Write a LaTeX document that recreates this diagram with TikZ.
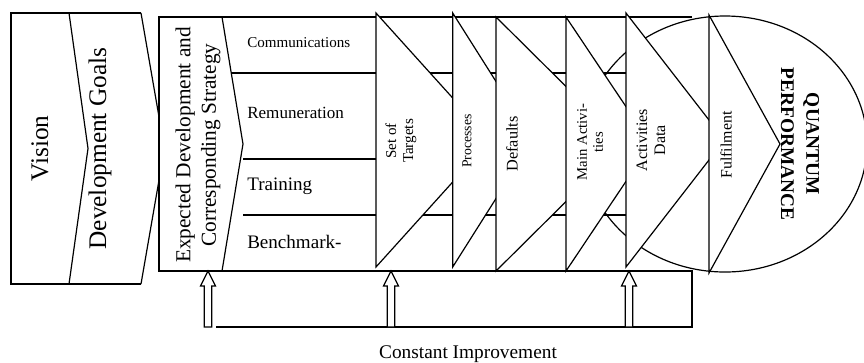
\documentclass[tikz,border=0pt]{standalone}
\usepackage{fontspec}
\setmainfont{Liberation Serif}
\tikzset{
  outline/.style={draw, line width=0.9pt},
  stage/.style={draw, fill=white, line width=0.9pt},
  vlabel/.style={rotate=90, align=center, inner sep=0.75pt},
  rowlabel/.style={anchor=west, inner sep=0.75pt},
}
\begin{document}
\begin{tikzpicture}[x=0.75pt,y=0.75pt,yscale=-1,xscale=1]
    \useasboundingbox (0,0) rectangle (864,362);

    %Shape: Vision and goals block
    \draw[outline] (141,13) -- (11,13) -- (11,284) -- (141,284);
    \draw[outline] (69,13) -- (88,148.5) -- (69,284);
    \draw[outline] (141,13) -- (164.5,148.5) -- (141,284);

    %Shape: Main frame and improvement loop
    \fill[white] (159,17) rectangle (692,271);
    \draw[outline] (692,17) -- (159,17) -- (159,271) -- (692,271) -- (692,327) -- (216,327);

    %Shape: Strategy chevron
    \draw[outline] (222,17) -- (243,144) -- (222,271);
    %Shape: Row lines
    \draw[outline] (231,73) -- (626,73);
    \draw[outline] (243,159) -- (376,159);
    \draw[outline] (243,215) -- (626,215);

    %Shape: Ellipse
    \draw[outline] (725,144) ellipse [x radius=142, y radius=128];

    %Shape: Stages
    \draw[stage] (376,13) -- (490.6,140) -- (376,267) -- cycle;
    \draw[stage] (452.7,13) -- (533,140) -- (452.7,267) -- cycle;
    \draw[stage] (496,17) -- (624,144) -- (496,271) -- cycle;
    \draw[stage] (566,17) -- (651,144) -- (566,271) -- cycle;
    \draw[stage] (626,13) -- (724.5,140) -- (626,267) -- cycle;
    \draw[stage] (709,15) -- (780,144) -- (709,273) -- cycle;

    %Shape: Hollow arrows
    \foreach \ax in {208,391,629}
      \draw[outline, fill=white] (\ax-3.8,327) -- (\ax-3.8,286) -- (\ax-7.5,286) -- (\ax,271) -- (\ax+7.5,286) -- (\ax+3.8,286) -- (\ax+3.8,327) -- cycle;

    % Text Node
    \node[vlabel, font=\fontsize{19}{23}\selectfont] (vision) at (40,148.5) {Vision};
    % Text Node
    \node[vlabel, font=\fontsize{19}{23}\selectfont] (goals) at (100,148.5) {Development Goals};
    % Text Node
    \node[vlabel, font=\fontsize{16}{19}\selectfont] (strategy) at (198,145) {Expected Development and\\Corresponding Strategy};
    % Text Node
    \node[rowlabel, font=\fontsize{11.3}{13}\selectfont] (comm) at (246,43) {Communications};
    % Text Node
    \node[rowlabel, font=\fontsize{12.8}{15}\selectfont] (remun) at (246,113) {Remuneration};
    % Text Node
    \node[rowlabel, font=\fontsize{14.3}{17}\selectfont] (train) at (246,186) {Training};
    % Text Node
    \node[rowlabel, font=\fontsize{14.3}{17}\selectfont] (bench) at (246,242) {Benchmark-};
    % Text Node
    \node[vlabel, font=\fontsize{11.3}{12.75}\selectfont] (targets) at (401,141) {Set of\\Targets};
    % Text Node
    \node[vlabel, font=\fontsize{10.3}{12}\selectfont] (processes) at (467,141) {Processes};
    % Text Node
    \node[vlabel, font=\fontsize{12.2}{14}\selectfont] (defaults) at (512,144) {Defaults};
    % Text Node
    \node[vlabel, font=\fontsize{11}{12}\selectfont] (mainact) at (590,142) {Main Activi-\\ties};
    % Text Node
    \node[vlabel, font=\fontsize{12}{13.5}\selectfont] (actdata) at (651,140) {Activities\\Data};
    % Text Node
    \node[vlabel, font=\fontsize{11.9}{14}\selectfont] (fulfil) at (726,145) {Fulfilment};
    % Text Node
    \node[rotate=-90, align=center, inner sep=0.75pt, font=\fontsize{14.5}{19}\selectfont\bfseries] (quantum) at (800,144) {QUANTUM\\PERFORMANCE};
    % Text Node
    \node[inner sep=0.75pt, font=\fontsize{14.5}{17}\selectfont] (improve) at (468,354) {Constant Improvement};

\end{tikzpicture}
\end{document}
